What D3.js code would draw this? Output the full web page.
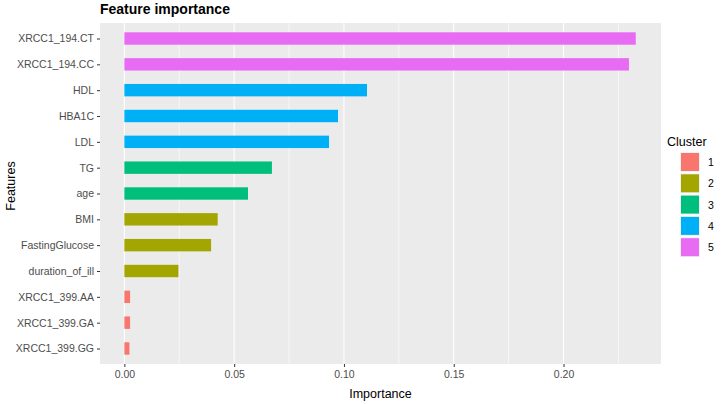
<!DOCTYPE html>
<html>
<head>
<meta charset="utf-8">
<script src="https://cdnjs.cloudflare.com/ajax/libs/d3/7.8.5/d3.min.js"></script>
<style>
  body { margin: 0; background: #fff; }
  svg { font-family: 'Liberation Sans', Arial, sans-serif; }
</style>
</head>
<body>
<svg id="canvas" width="724" height="404"></svg>
<script>
// data, top to bottom
let features = ['XRCC1_194.CT', 'XRCC1_194.CC', 'HDL', 'HBA1C', 'LDL', 'TG', 'age',
  'BMI', 'FastingGlucose', 'duration_of_ill', 'XRCC1_399.AA', 'XRCC1_399.GA', 'XRCC1_399.GG']
let importance = [0.2329, 0.2298, 0.1105, 0.0973, 0.0932, 0.0672, 0.0563,
  0.0425, 0.0395, 0.0246, 0.0026, 0.0026, 0.0023]
let cluster = ['5', '5', '4', '4', '4', '3', '3', '2', '2', '2', '1', '1', '1']
let clusters = ['1', '2', '3', '4', '5']
let clusterColors = ['#F8766D', '#A3A500', '#00BF7D', '#00B0F6', '#E76BF3']
let xTicks = [0, 0.05, 0.10, 0.15, 0.20]
let xMinor = [0.025, 0.075, 0.125, 0.175, 0.225]

let canvas = d3.select('#canvas')

let panel = { left: 100, right: 661, top: 23, bottom: 364 }

let x = d3.scaleLinear()
  .domain([-0.0111, 0.2444])
  .range([panel.left, panel.right])

// ggplot style discrete axis: 0.6 band expansion on each side
let y = d3.scalePoint()
  .domain(features)
  .range([panel.top, panel.bottom])
  .padding(0.6)

let step = y.step()
let barH = step * 0.48

let color = d3.scaleOrdinal()
  .domain(clusters)
  .range(clusterColors)

// panel background
canvas.append('rect')
  .attr('x', panel.left)
  .attr('y', panel.top)
  .attr('width', panel.right - panel.left)
  .attr('height', panel.bottom - panel.top)
  .attr('fill', '#EBEBEB')

// grid lines
canvas.selectAll('line.minor')
  .data(xMinor)
  .enter()
  .append('line')
  .attr('class', 'minor')
  .attr('x1', d => x(d)).attr('x2', d => x(d))
  .attr('y1', panel.top).attr('y2', panel.bottom)
  .attr('stroke', '#fff')
  .attr('stroke-width', 0.6)

canvas.selectAll('line.major')
  .data(xTicks)
  .enter()
  .append('line')
  .attr('class', 'major')
  .attr('x1', d => x(d)).attr('x2', d => x(d))
  .attr('y1', panel.top).attr('y2', panel.bottom)
  .attr('stroke', '#fff')
  .attr('stroke-width', 1.1)

// bars
canvas.selectAll('rect.bar')
  .data(features)
  .enter()
  .append('rect')
  .attr('class', 'bar')
  .attr('x', x(0))
  .attr('y', d => y(d) - barH / 2)
  .attr('width', (d, i) => x(importance[i]) - x(0))
  .attr('height', barH)
  .attr('fill', (d, i) => color(cluster[i]))

// x axis
let xAxis = d3.axisBottom(x)
  .tickValues(xTicks)
  .tickFormat(d3.format('.2f'))
  .tickSize(3)
  .tickPadding(4)

let gx = canvas.append('g')
  .attr('transform', `translate(0,${panel.bottom})`)
  .call(xAxis)
gx.select('.domain').remove()
gx.selectAll('line').attr('stroke', '#333').attr('stroke-width', 1)
gx.selectAll('text').attr('fill', '#4D4D4D').style('font-size', '10.5px')

// y axis
let yAxis = d3.axisLeft(y)
  .tickSize(3)
  .tickPadding(3)

let gy = canvas.append('g')
  .attr('transform', `translate(${panel.left},0)`)
  .call(yAxis)
gy.select('.domain').remove()
gy.selectAll('line').attr('stroke', '#333').attr('stroke-width', 1)
gy.selectAll('text').attr('fill', '#4D4D4D').style('font-size', '10.5px')

// titles
canvas.append('text')
  .attr('x', panel.left)
  .attr('y', 14)
  .attr('font-size', '14px')
  .attr('font-weight', 'bold')
  .attr('fill', '#000')
  .text('Feature importance')

canvas.append('text')
  .attr('x', (panel.left + panel.right) / 2)
  .attr('y', 398)
  .attr('text-anchor', 'middle')
  .attr('font-size', '12.5px')
  .attr('fill', '#000')
  .text('Importance')

canvas.append('text')
  .attr('transform', `translate(15,186) rotate(-90)`)
  .attr('text-anchor', 'middle')
  .attr('font-size', '12.5px')
  .attr('fill', '#000')
  .text('Features')

// legend
let legend = canvas.append('g')
  .attr('transform', 'translate(667,0)')

legend.append('text')
  .attr('x', 0)
  .attr('y', 146)
  .attr('font-size', '12.5px')
  .attr('fill', '#000')
  .text('Cluster')

let keys = legend.selectAll('g.key')
  .data(clusters)
  .enter()
  .append('g')
  .attr('class', 'key')
  .attr('transform', (d, i) => `translate(13,${152 + i * 21.3})`)

keys.append('rect')
  .attr('width', 20)
  .attr('height', 20)
  .attr('fill', '#F2F2F2')

keys.append('rect')
  .attr('x', 1).attr('y', 1)
  .attr('width', 18)
  .attr('height', 18)
  .attr('fill', d => color(d))

keys.append('text')
  .attr('x', 28)
  .attr('y', 14)
  .attr('font-size', '10.5px')
  .attr('fill', '#000')
  .text(d => d)
</script>
</body>
</html>
